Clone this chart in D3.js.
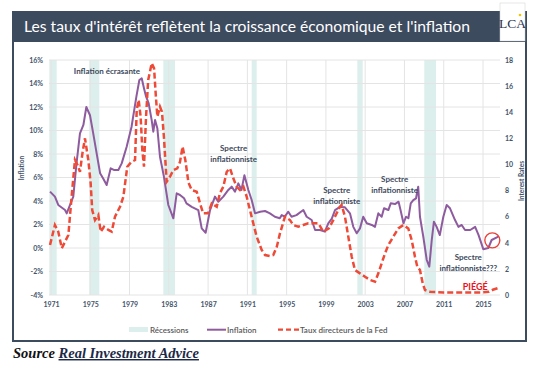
<!DOCTYPE html>
<html>
<head>
<meta charset="utf-8">
<script src="https://cdn.jsdelivr.net/npm/d3@7"></script>
<style>
  body { margin: 0; background: #fff; }
  svg { display: block; }
  text { font-family: Lato, "Open Sans", sans-serif; }
</style>
</head>
<body>
<div id="chart"></div>
<script>
// recession periods (start, end) in axis years
const recessions = [[1970.83, 1971.58], [1974.9, 1975.92], [1982.44, 1983.63], [1991.44, 1991.95], [2002.2, 2002.75], [2009.02, 2010.21]];

// inflation (%), left axis
const inflYears = [1970.9, 1971.4, 1971.74, 1972.43, 1972.6, 1973.27, 1973.6, 1973.95, 1974.3, 1974.6, 1974.97, 1975.3, 1975.65, 1976.0, 1976.3, 1976.67, 1977.08, 1977.4, 1977.86, 1978.2, 1978.7, 1979.2, 1979.7, 1980.0, 1980.24, 1980.47, 1980.68, 1980.95, 1981.25, 1981.42, 1981.6, 1981.83, 1982.1, 1982.5, 1982.95, 1983.46, 1983.8, 1984.14, 1984.55, 1984.8, 1985.33, 1986.0, 1986.35, 1986.75, 1987.2, 1987.7, 1988.04, 1988.55, 1989.06, 1989.4, 1989.74, 1990.08, 1990.4, 1990.7, 1991.1, 1991.44, 1991.78, 1992.3, 1992.8, 1993.3, 1993.8, 1994.3, 1994.5, 1994.8, 1995.17, 1995.5, 1996.0, 1996.7, 1997.04, 1997.55, 1997.9, 1998.4, 1998.9, 1999.24, 1999.6, 1999.93, 2000.43, 2000.94, 2001.45, 2001.79, 2002.14, 2002.47, 2002.8, 2003.16, 2003.67, 2004.0, 2004.34, 2004.68, 2004.92, 2005.36, 2005.6, 2006.04, 2006.4, 2006.6, 2006.9, 2007.16, 2007.4, 2007.64, 2007.9, 2008.18, 2008.4, 2008.58, 2008.92, 2009.27, 2009.53, 2009.78, 2010.0, 2010.28, 2010.6, 2010.96, 2011.3, 2011.64, 2012.15, 2012.5, 2012.83, 2013.17, 2013.7, 2014.2, 2014.55, 2015.03, 2015.54, 2015.88, 2016.56];
const inflValues = [4.8, 4.37, 3.66, 3.23, 2.95, 4.37, 7.2, 9.76, 10.47, 12.0, 11.3, 9.76, 8.06, 6.36, 5.93, 5.36, 6.78, 6.64, 6.64, 7.2, 8.6, 10.3, 12.9, 14.3, 14.44, 13.6, 12.9, 12.3, 10.9, 9.9, 10.9, 10.2, 7.77, 6.07, 3.66, 2.53, 4.65, 4.51, 4.23, 3.8, 3.5, 3.23, 1.67, 1.3, 3.23, 4.37, 3.94, 4.37, 4.94, 5.22, 4.8, 5.5, 4.94, 6.2, 4.94, 4.08, 2.95, 3.09, 3.15, 2.95, 2.66, 2.53, 2.8, 2.66, 3.09, 2.66, 2.8, 3.23, 2.66, 2.38, 1.53, 1.53, 1.39, 2.1, 2.5, 3.23, 3.5, 3.46, 2.95, 1.8, 1.25, 1.67, 2.66, 2.1, 1.96, 1.8, 2.95, 2.66, 3.38, 3.23, 3.8, 3.74, 3.94, 3.23, 2.1, 2.66, 2.53, 3.8, 4.08, 4.23, 5.22, 2.66, 0.96, -1.02, -1.59, 0.68, 2.24, 1.8, 1.1, 2.66, 3.66, 3.38, 2.38, 1.8, 1.96, 1.53, 1.53, 1.8, 1.1, -0.1, 0.0, 0.68, 0.96];

// Fed funds rate, right axis
const rateYears = [1970.9, 1971.4, 1971.74, 1972.1, 1972.43, 1972.77, 1973.1, 1973.44, 1973.7, 1973.95, 1974.2, 1974.46, 1974.8, 1975.04, 1975.2, 1975.48, 1975.82, 1976.06, 1976.4, 1976.84, 1977.18, 1977.52, 1978.03, 1978.37, 1978.77, 1979.2, 1979.56, 1979.73, 1979.93, 1980.13, 1980.3, 1980.47, 1980.68, 1980.9, 1981.26, 1981.5, 1981.66, 1981.83, 1982.1, 1982.3, 1982.5, 1982.78, 1983.12, 1983.46, 1983.86, 1984.14, 1984.4, 1984.68, 1985.0, 1985.33, 1985.84, 1986.18, 1986.5, 1987.0, 1987.37, 1987.88, 1988.2, 1988.55, 1988.9, 1989.23, 1989.57, 1989.9, 1990.25, 1990.6, 1990.93, 1991.27, 1991.6, 1991.95, 1992.46, 1992.8, 1993.3, 1993.64, 1994.0, 1994.32, 1994.83, 1995.34, 1995.68, 1996.19, 1996.7, 1997.2, 1997.7, 1998.23, 1998.74, 1999.3, 1999.75, 2000.43, 2000.6, 2000.94, 2001.28, 2001.63, 2001.96, 2002.47, 2002.98, 2003.49, 2004.0, 2004.34, 2004.68, 2005.02, 2005.36, 2005.87, 2006.37, 2006.88, 2007.39, 2007.74, 2008.07, 2008.31, 2008.58, 2008.86, 2009.09, 2009.6, 2011.0, 2013.0, 2015.0, 2015.6, 2016.0, 2016.6];
const rateValues = [3.83, 5.36, 4.85, 3.58, 4.08, 4.6, 7.53, 10.34, 9.96, 9.44, 10.85, 12.0, 10.34, 8.55, 6.5, 5.74, 6.13, 4.85, 5.23, 4.98, 4.85, 6.0, 6.76, 7.53, 9.83, 10.2, 10.34, 14.17, 14.94, 13.66, 11.1, 9.83, 13.66, 16.47, 17.75, 17.36, 15.45, 13.66, 14.42, 14.04, 12.12, 8.68, 9.06, 9.57, 9.7, 10.2, 11.36, 10.34, 8.6, 8.04, 7.91, 7.02, 6.26, 6.26, 7.02, 6.76, 7.79, 8.3, 9.44, 9.7, 8.94, 8.3, 8.04, 8.3, 7.53, 6.5, 5.49, 4.47, 3.45, 3.06, 2.99, 3.06, 3.7, 4.72, 6.0, 5.74, 5.36, 5.23, 5.36, 5.49, 5.49, 5.49, 4.85, 5.1, 5.74, 6.76, 6.9, 6.0, 4.47, 2.93, 1.91, 1.66, 1.4, 1.15, 1.02, 1.66, 2.43, 3.19, 3.83, 4.47, 5.1, 5.36, 5.1, 4.2, 2.93, 2.17, 1.91, 0.9, 0.38, 0.25, 0.2, 0.2, 0.2, 0.25, 0.4, 0.55];

const xTicks = [1971, 1975, 1979, 1983, 1987, 1991, 1995, 1999, 2003, 2007, 2011, 2015];
const leftTicks = [-4, -2, 0, 2, 4, 6, 8, 10, 12, 14, 16];
const rightTicks = [0, 2, 4, 6, 8, 10, 12, 14, 16, 18];

const annotations = [
  {lines: ["Inflation écrasante"], year: 1976.7, v: 14.85},
  {lines: ["Spectre", "inflationniste"], year: 1989.6, v: 8.26},
  {lines: ["Spectre", "inflationniste"], year: 2000.1, v: 4.68},
  {lines: ["Spectre", "inflationniste"], year: 2006.0, v: 5.6},
  {lines: ["Spectre", "inflationniste???"], year: 2013.5, v: -0.98}
];

const W = 548, H = 376;
const textCol = "#44546a";
const purple = "#8e5b9f";
const red = "#ee4a38";

const svg = d3.select("#chart").append("svg").attr("width", W).attr("height", H);

const x = d3.scaleLinear().domain([1971, 2015]).range([51, 483]);
const yL = d3.scaleLinear().domain([-4, 16]).range([295, 60]);
const yR = d3.scaleLinear().domain([0, 18]).range([295, 60]);
const plotL = 49, plotR = 500;

// frame and title bar
svg.append("rect").attr("x", 13).attr("y", 12).attr("width", 513).attr("height", 329)
  .attr("fill", "#fff").attr("stroke", "#3d4b5f").attr("stroke-width", 2);
svg.append("rect").attr("x", 13).attr("y", 12).attr("width", 513).attr("height", 30).attr("fill", "#3d4b5f");
svg.append("text").attr("x", 24).attr("y", 32)
  .attr("fill", "#fff").attr("font-size", 14.5).attr("textLength", 446).attr("lengthAdjust", "spacingAndGlyphs")
  .text("Les taux d'intérêt reflètent la croissance économique et l'inflation");

// LCA logo
svg.append("rect").attr("x", 500).attr("y", 3).attr("width", 25).attr("height", 38)
  .attr("fill", "#fff").attr("stroke", "#d0d0d0").attr("stroke-width", 0.5);
svg.append("text").attr("x", 512.5).attr("y", 28).attr("text-anchor", "middle")
  .style("font-family", "'Liberation Serif', serif").attr("font-size", 13.5).attr("fill", "#2b3550")
  .text("LCA");
svg.append("circle").attr("cx", 520).attr("cy", 15).attr("r", 1.3).attr("fill", "#f2c500");

const g = svg.append("g");

// recession bands
g.selectAll("rect.rec").data(recessions).join("rect").attr("class", "rec")
  .attr("x", d => x(d[0])).attr("width", d => x(d[1]) - x(d[0]))
  .attr("y", yL(16)).attr("height", yL(-4) - yL(16))
  .attr("fill", "#dcefec");

// grid
g.selectAll("line.hg").data(leftTicks).join("line").attr("class", "hg")
  .attr("x1", plotL).attr("x2", plotR).attr("y1", d => yL(d)).attr("y2", d => yL(d))
  .attr("stroke", "#e4e4e4").attr("stroke-width", 1);
g.selectAll("line.vg").data(xTicks).join("line").attr("class", "vg")
  .attr("x1", d => x(d)).attr("x2", d => x(d)).attr("y1", yL(16)).attr("y2", yL(-4))
  .attr("stroke", "#e4e4e4").attr("stroke-width", 1);

// axes
function styleAxis(sel) {
  sel.select(".domain").remove();
  sel.selectAll("text").attr("fill", textCol).attr("font-size", 7).attr("font-weight", "bold")
    .style("font-family", "Lato, sans-serif");
}
svg.append("g").attr("transform", `translate(${plotL},0)`)
  .call(d3.axisLeft(yL).tickValues(leftTicks).tickFormat(d => d + "%").tickSize(0).tickPadding(6))
  .call(styleAxis);
svg.append("g").attr("transform", `translate(${plotR},0)`)
  .call(d3.axisRight(yR).tickValues(rightTicks).tickSize(0).tickPadding(5))
  .call(styleAxis);
svg.append("g").attr("transform", `translate(0,${yL(-4)})`)
  .call(d3.axisBottom(x).tickValues(xTicks).tickFormat(d3.format("d")).tickSize(0).tickPadding(7))
  .call(styleAxis);

svg.append("text").attr("transform", "translate(24,168) rotate(-90)").attr("text-anchor", "middle")
  .attr("fill", textCol).attr("font-size", 6.5).attr("font-weight", "bold").text("Inflation");
svg.append("text").attr("transform", "translate(524,181) rotate(-90)").attr("text-anchor", "middle")
  .attr("fill", textCol).attr("font-size", 6.5).attr("font-weight", "bold").text("Interest Rates");

// series
const infl = inflYears.map((d, i) => [d, inflValues[i]]);
const rate = rateYears.map((d, i) => [d, rateValues[i]]);

g.append("path").datum(infl)
  .attr("d", d3.line().x(d => x(d[0])).y(d => yL(d[1])))
  .attr("fill", "none").attr("stroke", purple).attr("stroke-width", 2).attr("stroke-linejoin", "round");
g.append("path").datum(rate)
  .attr("d", d3.line().x(d => x(d[0])).y(d => yR(d[1])))
  .attr("fill", "none").attr("stroke", red).attr("stroke-width", 2.5).attr("stroke-dasharray", "6,3");

// annotations
annotations.forEach(a => {
  const t = g.append("text").attr("x", x(a.year)).attr("y", yL(a.v)).attr("text-anchor", "middle")
    .attr("fill", "#3d4a5c").attr("font-size", 8).attr("font-weight", "bold");
  a.lines.forEach((l, i) => t.append("tspan").attr("x", x(a.year)).attr("dy", i ? 11 : 0).text(l));
});
g.append("text").attr("x", x(2014.2)).attr("y", yR(0.35)).attr("text-anchor", "middle")
  .attr("fill", "#e8131b").attr("font-size", 9).attr("font-weight", "bold").text("PIÉGÉ");
g.append("circle").attr("cx", x(2015.95)).attr("cy", yL(0.65)).attr("r", 7.5)
  .attr("fill", "none").attr("stroke", "#e8413a").attr("stroke-width", 1.4);

// legend
const lg = svg.append("g").attr("font-size", 8).attr("font-weight", 600).attr("fill", "#595959");
lg.append("rect").attr("x", 129).attr("y", 327).attr("width", 19).attr("height", 5).attr("fill", "#dcefec");
lg.append("text").attr("x", 150).attr("y", 332.5).text("Récessions");
lg.append("line").attr("x1", 207).attr("x2", 226).attr("y1", 329.7).attr("y2", 329.7)
  .attr("stroke", purple).attr("stroke-width", 2);
lg.append("text").attr("x", 227).attr("y", 332.5).text("Inflation");
lg.append("line").attr("x1", 278).attr("x2", 299).attr("y1", 329.7).attr("y2", 329.7)
  .attr("stroke", red).attr("stroke-width", 2.2).attr("stroke-dasharray", "5,3");
lg.append("text").attr("x", 300).attr("y", 332.5).text("Taux directeurs de la Fed");

// source
const src = svg.append("text").attr("x", 13).attr("y", 358)
  .style("font-family", "'Liberation Serif', 'Times New Roman', serif")
  .attr("font-size", 14.5).attr("font-weight", "bold").attr("font-style", "italic").attr("fill", "#111");
src.append("tspan").text("Source ");
src.append("tspan").attr("fill", "#1c2a48").style("text-decoration", "underline").text("Real Investment Advice");
</script>
</body>
</html>
